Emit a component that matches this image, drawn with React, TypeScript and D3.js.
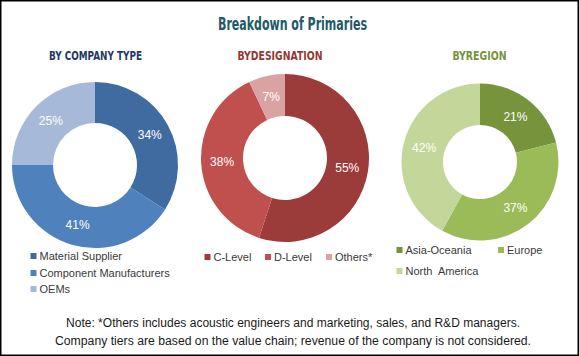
import React from "react";
import * as d3 from "d3";

const title = "Breakdown of Primaries";
const chartTitles = ["BY COMPANY TYPE", "BYDESIGNATION", "BYREGION"];

const companyLabels = ["Material Supplier", "Component Manufacturers", "OEMs"];
const companyValues = [34, 41, 25];
const companyColors = ["#3F6BA1", "#4F81BD", "#A7B9D9"];

const designationLabels = ["C-Level", "D-Level", "Others*"];
const designationValues = [55, 38, 7];
const designationColors = ["#9B3B3A", "#C0504D", "#D9A3A4"];

const regionLabels = ["Asia-Oceania", "Europe", "North  America"];
const regionValues = [21, 37, 42];
const regionColors = ["#77933C", "#9BBB59", "#C4D79B"];

const notes = [
  "Note: *Others includes acoustic engineers and marketing, sales, and R&D managers.",
  "Company tiers are based on the value chain; revenue of the company is not considered.",
];

const W = 579;
const H = 356;
const labelFont = "'Liberation Sans', Arial, sans-serif";
const headFont = "'Liberation Sans Narrow', 'DejaVu Sans Condensed', 'Liberation Sans', Arial, sans-serif";

type DonutProps = {
  cx: number;
  cy: number;
  r: number;
  ir: number;
  values: number[];
  colors: string[];
};

function Donut({ cx, cy, r, ir, values, colors }: DonutProps) {
  const pie = d3.pie<number>().sort(null).value((d) => d)(values);
  const arc = d3.arc<d3.PieArcDatum<number>>().innerRadius(ir).outerRadius(r);
  const labelArc = d3
    .arc<d3.PieArcDatum<number>>()
    .innerRadius((r + ir) / 2)
    .outerRadius((r + ir) / 2);
  return (
    <g transform={`translate(${cx},${cy})`}>
      {pie.map((p, i) => (
        <path key={i} d={arc(p) || ""} fill={colors[i]} />
      ))}
      {pie.map((p, i) => {
        const [x, y] = labelArc.centroid(p);
        return (
          <text
            key={"t" + i}
            x={x}
            y={y}
            dy="0.35em"
            textAnchor="middle"
            fill="#ffffff"
            fontSize={12}
            fontFamily={labelFont}
          >
            {`${values[i]}%`}
          </text>
        );
      })}
    </g>
  );
}

type LegendItem = { label: string; color: string; x: number; y: number };

function Legend({ items }: { items: LegendItem[] }) {
  return (
    <g>
      {items.map((it, i) => (
        <g key={i}>
          <rect x={it.x} y={it.y - 3} width={6} height={6} fill={it.color} />
          <text
            x={it.x + 9}
            y={it.y}
            dy="0.35em"
            fontSize={11}
            fill="#3a3a3a"
            fontFamily={labelFont}
            style={{ whiteSpace: "pre" }}
          >
            {it.label}
          </text>
        </g>
      ))}
    </g>
  );
}

export default function App() {
  const legend1: LegendItem[] = companyLabels.map((l, i) => ({
    label: l,
    color: companyColors[i],
    x: 30.5,
    y: [256, 273, 289][i],
  }));
  const legend2: LegendItem[] = designationLabels.map((l, i) => ({
    label: l,
    color: designationColors[i],
    x: [204.5, 265, 326][i],
    y: 257,
  }));
  const legend3: LegendItem[] = regionLabels.map((l, i) => ({
    label: l,
    color: regionColors[i],
    x: [396.5, 498, 396.5][i],
    y: [250, 250, 271][i],
  }));

  const subColors = ["#1F3864", "#953735", "#77933C"];
  const subX = [95.5, 280, 479.5];
  const subW = [93, 85, 54];

  return (
    <svg
      width={W}
      height={H}
      style={{ position: "absolute", left: 0, top: 0, display: "block" }}
    >
      <rect x={0} y={0} width={W} height={H} fill="#ffffff" />
      <text
        x={292.5}
        y={30}
        textAnchor="middle"
        fontSize={18}
        fontWeight="bold"
        fill="#215968"
        fontFamily={headFont}
        textLength={149}
        lengthAdjust="spacingAndGlyphs"
      >
        {title}
      </text>
      {chartTitles.map((t, i) => (
        <text
          key={t}
          x={subX[i]}
          y={59.5}
          textAnchor="middle"
          fontSize={13}
          fontWeight={600}
          fill={subColors[i]}
          fontFamily={headFont}
          textLength={subW[i]}
          lengthAdjust="spacingAndGlyphs"
        >
          {t}
        </text>
      ))}

      <Donut cx={95} cy={165} r={83} ir={42} values={companyValues} colors={companyColors} />
      <Donut cx={285} cy={158} r={84} ir={42} values={designationValues} colors={designationColors} />
      <Donut cx={480} cy={162} r={78.5} ir={37} values={regionValues} colors={regionColors} />

      <Legend items={legend1} />
      <Legend items={legend2} />
      <Legend items={legend3} />

      <text
        x={293}
        y={323}
        dy="0.35em"
        textAnchor="middle"
        fontSize={12}
        fill="#1a1a1a"
        fontFamily={labelFont}
        textLength={454}
        lengthAdjust="spacingAndGlyphs"
      >
        {notes[0]}
      </text>
      <text
        x={293}
        y={341}
        dy="0.35em"
        textAnchor="middle"
        fontSize={12}
        fill="#1a1a1a"
        fontFamily={labelFont}
        textLength={476}
        lengthAdjust="spacingAndGlyphs"
      >
        {notes[1]}
      </text>

      <rect
        x={0.75}
        y={0.75}
        width={W - 1.5}
        height={H - 1.5}
        fill="none"
        stroke="#000000"
        strokeWidth={1.5}
      />
    </svg>
  );
}
